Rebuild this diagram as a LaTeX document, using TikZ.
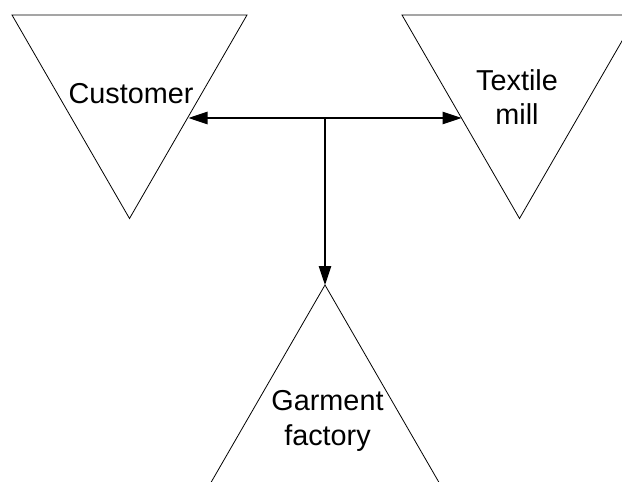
\documentclass[tikz,border=0pt]{standalone}
\usepackage{fontspec}
\setmainfont{Liberation Sans}
\usetikzlibrary{arrows.meta}
\begin{document}
\begin{tikzpicture}[x=1bp,y=-1bp,
  site/.style={draw=black,line width=0.8bp},
  label/.style={inner sep=0pt,align=center,
    font=\fontsize{28.8bp}{34.5bp}\selectfont},
  flow/.style={draw=black,line width=1.1bp,
    -{Triangle[length=19bp,width=12.5bp]}}]
\useasboundingbox (0,0) rectangle (622,482);
\clip (0,0) rectangle (622,482);
% three equilateral triangles
\draw[site] (12,15) -- (247,15) -- (129.5,218.5) -- cycle;
\draw[site] (402,15) -- (637,15) -- (519.5,218.5) -- cycle;
\draw[site] (325,285) -- (442.5,488.5) -- (207.5,488.5) -- cycle;
% labels
\node[label,anchor=base] (cust) at (131,103.5) {Customer};
\node[label] (mill) at (517,97) {Textile\\mill};
\node[label] (garm) at (327.5,421) {Garment\\factory};
% connector end points on the triangle edges
\coordinate (custEdge) at (188.5,118);
\coordinate (millEdge) at (461.5,118);
\coordinate (junction) at (325,118);
\coordinate (garmApex) at (325,285);
% connectors
\draw[flow] (junction) -- (custEdge);
\draw[flow] (junction) -- (millEdge);
\draw[flow] (junction) -- (garmApex);
\end{tikzpicture}
\end{document}
